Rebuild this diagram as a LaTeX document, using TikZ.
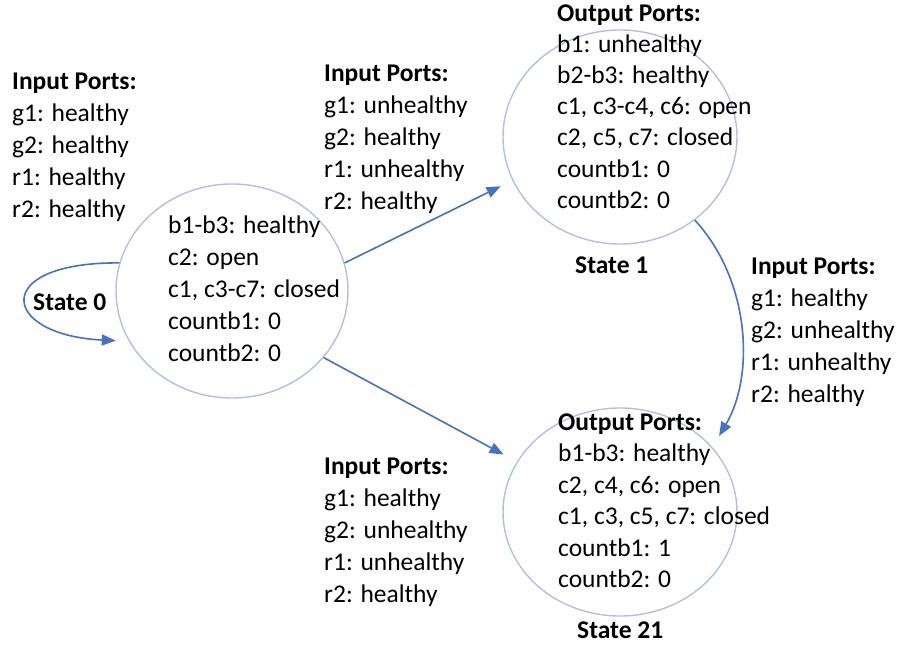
\documentclass[tikz,border=0pt]{standalone}
\usepackage{fontspec}
\setmainfont{Carlito}
\usetikzlibrary{arrows.meta,shapes.geometric}

\definecolor{ringblue}{RGB}{176,192,228}
\definecolor{arrowblue}{RGB}{68,114,196}

% a left-aligned block whose base is the baseline of its first line
\newcommand{\textlines}[1]{\begin{tabular}[t]{@{}l@{}}#1\end{tabular}}

\begin{document}
\begin{tikzpicture}[x=1pt,y=-1pt,
  state/.style={ellipse, draw=ringblue, line width=1.4pt, inner sep=0pt},
  txt/.style={anchor=base west, inner sep=0pt, font=\fontsize{25.5}{32}\selectfont},
  lbl/.style={anchor=base west, inner sep=0pt, font=\fontsize{25.5}{32}\selectfont\bfseries},
  flow/.style={draw=arrowblue, line width=1.6pt, -{Triangle[length=14pt,width=11pt]}}]

\useasboundingbox (0,0) rectangle (898,651);

% states
\node[state, minimum width=232pt, minimum height=214pt] (s0)  at (232,291) {};
\node[state, minimum width=234pt, minimum height=214pt] (s1)  at (620,137) {};
\node[state, minimum width=234pt, minimum height=208pt] (s21) at (620,512) {};

% state contents
\node[txt] (v0) at (168,233) {\textlines{b1-b3: healthy\\ c2: open\\ c1, c3-c7: closed\\ countb1: 0\\ countb2: 0}};
\node[txt, font=\fontsize{25.5}{31.2}\selectfont] (v1) at (557,21) {\textlines{\textbf{Output Ports:}\\ b1: unhealthy\\ b2-b3: healthy\\ c1, c3-c4, c6: open\\ c2, c5, c7: closed\\ countb1: 0\\ countb2: 0}};
\node[txt, font=\fontsize{25.5}{31.5}\selectfont] (v21) at (558,430) {\textlines{\textbf{Output Ports:}\\ b1-b3: healthy\\ c2, c4, c6: open\\ c1, c3, c5, c7: closed\\ countb1: 1\\ countb2: 0}};

% state names
\node[lbl] (l0)  at (33,310)  {State 0};
\node[lbl] (l1)  at (575,273) {State 1};
\node[lbl] (l21) at (577,638) {State 21};

% inputs on each transition
\node[txt] (in0)   at (12,89)   {\textlines{\textbf{Input Ports:}\\ g1: healthy\\ g2: healthy\\ r1: healthy\\ r2: healthy}};
\node[txt] (in01)  at (324,81)  {\textlines{\textbf{Input Ports:}\\ g1: unhealthy\\ g2: healthy\\ r1: unhealthy\\ r2: healthy}};
\node[txt] (in021) at (324,474) {\textlines{\textbf{Input Ports:}\\ g1: healthy\\ g2: unhealthy\\ r1: unhealthy\\ r2: healthy}};
\node[txt] (in121) at (751,274) {\textlines{\textbf{Input Ports:}\\ g1: healthy\\ g2: unhealthy\\ r1: unhealthy\\ r2: healthy}};

% transitions
\draw[flow, shorten >=13pt] (s0.166) .. controls (-10,262) and (0,335) .. (s0.206.6);
\draw[flow, shorten >=13pt] (s0.14) -- (s1.202.5);
\draw[flow, shorten >=15pt] (s0.-36) -- (s21.154.6);
\draw[flow, shorten >=13pt] (s1.-48) .. controls (750,280) and (755,375) .. (s21.35.5);

\end{tikzpicture}
\end{document}
